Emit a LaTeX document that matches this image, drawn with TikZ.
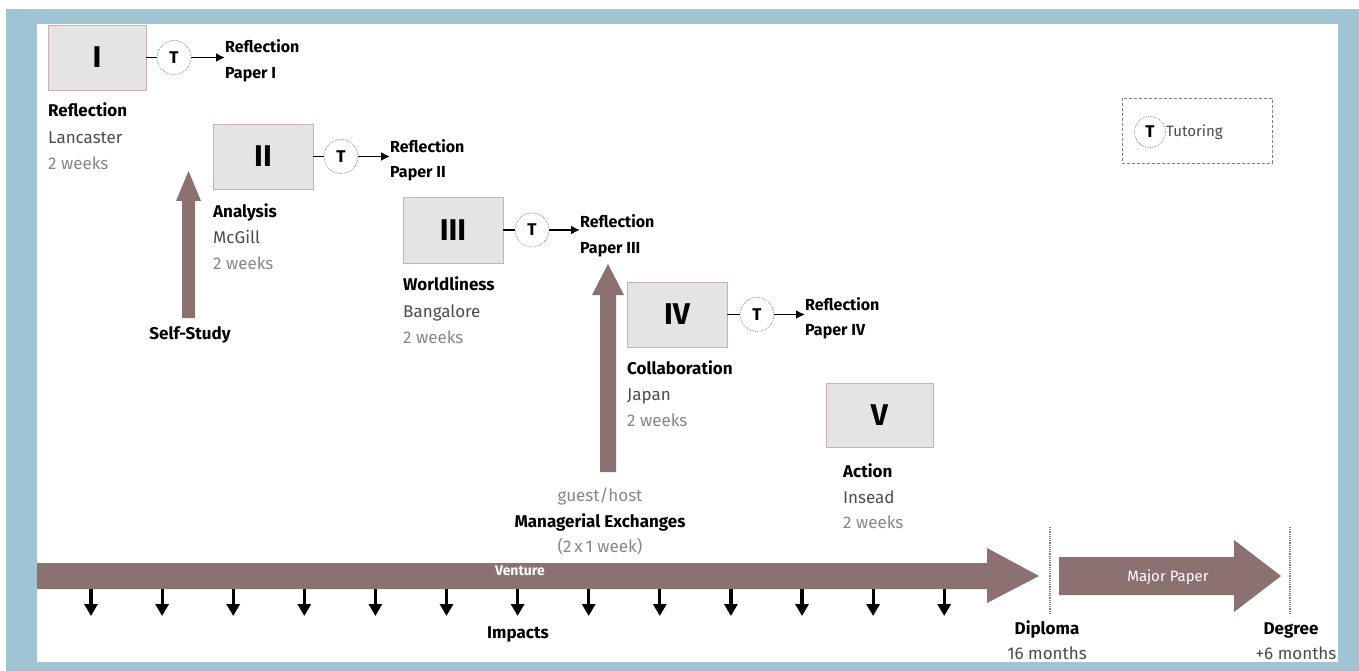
\documentclass[tikz,border=0pt]{standalone}
\usepackage{fontspec}
\setmainfont{Fira Sans}
\usetikzlibrary{arrows.meta}
\definecolor{frameblue}{RGB}{160,196,211}
\definecolor{arrowc}{RGB}{140,113,113}
\definecolor{boxfill}{RGB}{229,227,227}
\definecolor{boxedge}{RGB}{205,175,180}
\definecolor{locgray}{RGB}{75,75,75}
\definecolor{durgray}{RGB}{135,135,135}
\begin{document}
\begin{tikzpicture}[x=1pt,y=-1pt,
  box/.style={draw=boxedge, fill=boxfill, line width=0.7pt, inner sep=0, font=\bfseries\fontsize{30}{30}\selectfont},
  tut/.style={circle, draw=gray, densely dotted, line width=0.7pt, fill=white, minimum size=34pt, inner sep=0, font=\bfseries\fontsize{17}{17}\selectfont},
  ttl/.style={anchor=base west, inner sep=0, font=\bfseries\fontsize{17}{17}\selectfont},
  loc/.style={anchor=base west, inner sep=0, font=\fontsize{17}{17}\selectfont, text=locgray},
  dur/.style={anchor=base west, inner sep=0, font=\fontsize{17}{17}\selectfont, text=durgray},
  ctr/.style={anchor=base, inner sep=0, font=\fontsize{17}{17}\selectfont},
  pap/.style={anchor=base west, inner sep=0, font=\bfseries\fontsize{16}{16}\selectfont},
  fat/.style={fill=arrowc},
  imp/.style={-{Triangle[width=13pt,length=12pt]}, line width=3.2pt},
  lnk/.style={line width=1.8pt},
  lnka/.style={-{Latex[length=9pt,width=9pt]}, line width=1.9pt},
  mark line/.style={draw=gray, densely dotted, line width=1.2pt}
]
\useasboundingbox (0,0) rectangle (1359,671);
\fill[frameblue] (6,9) rectangle (1359,671);
\fill[white] (37,24) rectangle (1338,662);

% ---- module boxes
\node[box, minimum width=98pt, minimum height=65pt] (b1) at (97,57.5) {I};
\node[box, minimum width=100pt, minimum height=65pt] (b2) at (263,156.5) {II};
\node[box, minimum width=100pt, minimum height=66pt] (b3) at (453,230) {III};
\node[box, minimum width=100pt, minimum height=65pt] (b4) at (677,314.5) {IV};
\node[box, minimum width=107pt, minimum height=64pt] (b5) at (879.5,415) {V};

% ---- tutoring circles
\node[tut] (t1) at (174,57.5) {T};
\node[tut] (t2) at (341,156.5) {T};
\node[tut] (t3) at (532,230) {T};
\node[tut] (t4) at (757,314.5) {T};

% ---- reflection papers
\node[pap] (r1a) at (225,53) {Reflection};
\node[pap] (r1b) at (225,79) {Paper I};
\node[pap] (r2a) at (390,153) {Reflection};
\node[pap] (r2b) at (390,178) {Paper II};
\node[pap] (r3a) at (580,227) {Reflection};
\node[pap] (r3b) at (580,253) {Paper III};
\node[pap] (r4a) at (805,310) {Reflection};
\node[pap] (r4b) at (805,335) {Paper IV};

\draw[lnk] (b1.east) -- (t1.west);
\draw[lnk] (b2.east) -- (t2.west);
\draw[lnk] (b3.east) -- (t3.west);
\draw[lnk] (b4.east) -- (t4.west);
\draw[lnka] (t1.east) -- (t1.east -| r1a.west);
\draw[lnka] (t2.east) -- (t2.east -| r2a.west);
\draw[lnka] (t3.east) -- (t3.east -| r3a.west);
\draw[lnka] (t4.east) -- (t4.east -| r4a.west);

% ---- module labels
\node[ttl] (l1a) at (48,117) {Reflection};
\node[loc] (l1b) at (48,144) {Lancaster};
\node[dur] (l1c) at (48,170) {2 weeks};
\node[ttl] (l2a) at (213,217) {Analysis};
\node[loc] (l2b) at (213,243) {McGill};
\node[dur] (l2c) at (213,269) {2 weeks};
\node[ttl] (l3a) at (403,290) {Worldliness};
\node[loc] (l3b) at (403,317) {Bangalore};
\node[dur] (l3c) at (403,343) {2 weeks};
\node[ttl] (l4a) at (627,374) {Collaboration};
\node[loc] (l4b) at (627,400) {Japan};
\node[dur] (l4c) at (627,426) {2 weeks};
\node[ttl] (l5a) at (843,477) {Action};
\node[loc] (l5b) at (843,503) {Insead};
\node[dur] (l5c) at (843,528) {2 weeks};

% ---- self-study arrow
\fill[fat] (182,318) -- (182,201) -- (176,201) -- (188.5,171) -- (201,201) -- (195,201) -- (195,318) -- cycle;
\node[ctr, font=\bfseries\fontsize{17}{17}\selectfont] (ss) at (190,339) {Self-Study};

% ---- managerial exchanges arrow
\fill[fat] (600,472) -- (600,295) -- (592,295) -- (608,264) -- (624,295) -- (616,295) -- (616,472) -- cycle;
\node[ctr, text=durgray] (me1) at (600,501) {guest/host};
\node[ctr, font=\bfseries\fontsize{17}{17}\selectfont] (me2) at (600,527) {Managerial Exchanges};
\node[ctr, text=durgray] (me3) at (600,552) {(2\,x\,1 week)};

% ---- venture arrow
\fill[fat] (37,563) -- (987,563) -- (987,548) -- (1039,576) -- (987,603) -- (987,589) -- (37,589) -- cycle;
\node[text=white, font=\bfseries\fontsize{14}{14}\selectfont] (ven) at (520,571) {Venture};
\foreach \i in {0,...,12} \draw[imp] ({91+71.1*\i},589) -- ++(0,27);
\node[ctr, font=\bfseries\fontsize{17}{17}\selectfont] (imp) at (518,638) {Impacts};

% ---- diploma / major paper / degree
\draw[mark line] (1050,527) -- (1050,613);
\fill[fat] (1059,557) -- (1234,557) -- (1234,540) -- (1281,576) -- (1234,612) -- (1234,595) -- (1059,595) -- cycle;
\node[text=white, font=\fontsize{15}{15}\selectfont] (mp) at (1168,577) {Major Paper};
\draw[mark line] (1290,527) -- (1290,613);
\node[ctr, font=\bfseries\fontsize{17}{17}\selectfont] (dip) at (1047,634) {Diploma};
\node[ctr, text=locgray] (dip2) at (1047,659) {16 months};
\node[ctr, font=\bfseries\fontsize{17}{17}\selectfont] (deg) at (1291,634) {Degree};
\node[ctr, text=locgray] (deg2) at (1296,659) {+6 months};

% ---- legend
\draw[gray, densely dashed, line width=0.7pt] (1122,98) rectangle (1272,163);
\node[tut, minimum size=31pt] (lt) at (1150,132) {T};
\node[anchor=west, inner sep=0, font=\fontsize{15}{15}\selectfont, text=locgray] (ltx) at (1166,132) {Tutoring};
\end{tikzpicture}
\end{document}
